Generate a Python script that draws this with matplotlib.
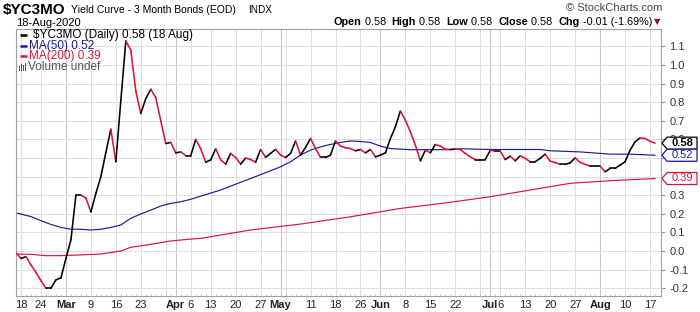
import numpy as np
import pandas as pd
import matplotlib
matplotlib.use('Agg')
import matplotlib.pyplot as plt
from matplotlib.collections import LineCollection
from matplotlib.patches import Polygon
from matplotlib.transforms import IdentityTransform

plt.rcParams['font.family'] = ['Liberation Sans', 'DejaVu Sans']

# ---------------- data ----------------
holidays = ['2020-02-17', '2020-04-10', '2020-05-25', '2020-07-03']
start_date = '2020-02-14'
end_date = '2020-08-18'

price = [
    -0.01, -0.04, -0.03, -0.075, -0.115, -0.16, -0.20, -0.20, -0.155, -0.145,   # Feb14..Feb28
    -0.04, 0.06, 0.30, 0.30, 0.285,                                              # Mar2..Mar6
    0.21, 0.31, 0.40, 0.53, 0.655,                                               # Mar9..13
    0.48, 0.81, 1.13, 1.08, 0.86,                                                # Mar16..20
    0.74, 0.82, 0.87, 0.825, 0.70,                                               # Mar23..27
    0.578, 0.584, 0.528, 0.533, 0.513,                                           # Mar30..Apr3
    0.513, 0.60, 0.55, 0.478,                                                    # Apr6..9
    0.49, 0.55, 0.49, 0.467, 0.525,                                              # Apr13..17
    0.503, 0.467, 0.50, 0.492, 0.478,                                            # Apr20..24
    0.546, 0.504, 0.525, 0.547, 0.516,                                           # Apr27..May1
    0.503, 0.525, 0.592, 0.516, 0.557,                                           # May4..8
    0.605, 0.551, 0.503, 0.503, 0.516,                                           # May11..15
    0.592, 0.564, 0.555, 0.551, 0.539,                                           # May18..22
    0.546, 0.528, 0.546, 0.506,                                                  # May26..29
    0.516, 0.528, 0.605, 0.668, 0.753,                                           # Jun1..5
    0.703, 0.641, 0.569, 0.485, 0.542,                                           # Jun8..12
    0.528, 0.573, 0.564, 0.548, 0.546,                                           # Jun15..19
    0.548, 0.546, 0.525, 0.506, 0.492,                                           # Jun22..26
    0.492, 0.492, 0.542, 0.537,                                                  # Jun29..Jul2
    0.537, 0.492, 0.51, 0.485, 0.512,                                            # Jul6..10
    0.498, 0.48, 0.48, 0.498, 0.521,                                             # Jul13..17
    0.483, 0.476, 0.466, 0.466, 0.474,                                           # Jul20..24
    0.501, 0.476, 0.466, 0.457, 0.457,                                           # Jul27..31
    0.457, 0.426, 0.444, 0.444, 0.462,                                           # Aug3..7
    0.48, 0.542, 0.587, 0.608, 0.605,                                            # Aug10..14
    0.59, 0.58,                                                                  # Aug17..18
]

ma50_dates = ['2020-02-14', '2020-02-20', '2020-02-24', '2020-02-26', '2020-02-28', '2020-03-03',
              '2020-03-05', '2020-03-09', '2020-03-11', '2020-03-13', '2020-03-17', '2020-03-19',
              '2020-03-23', '2020-03-25', '2020-03-27', '2020-03-31', '2020-04-02', '2020-04-06',
              '2020-04-08', '2020-04-15', '2020-04-17', '2020-04-23', '2020-05-01', '2020-05-05',
              '2020-05-07', '2020-05-11', '2020-05-13', '2020-05-15', '2020-05-19', '2020-05-21',
              '2020-05-26', '2020-05-28', '2020-06-01', '2020-06-03', '2020-06-05', '2020-06-09',
              '2020-06-15', '2020-06-19', '2020-06-23', '2020-07-01', '2020-07-16', '2020-07-20',
              '2020-07-28', '2020-08-03', '2020-08-05', '2020-08-11', '2020-08-18']
ma50_vals = [0.205, 0.185, 0.163, 0.143, 0.127, 0.117,
             0.117, 0.113, 0.117, 0.127, 0.14, 0.176,
             0.199, 0.22, 0.242, 0.256, 0.265, 0.278,
             0.295, 0.328, 0.349, 0.39, 0.453, 0.48,
             0.516, 0.543, 0.56, 0.573, 0.584, 0.592,
             0.589, 0.584, 0.564, 0.551, 0.548, 0.545,
             0.545, 0.545, 0.55, 0.546, 0.546, 0.539,
             0.533, 0.525, 0.521, 0.521, 0.515]

ma200_dates = ['2020-02-14', '2020-02-20', '2020-02-25', '2020-02-28', '2020-03-05', '2020-03-11',
               '2020-03-17', '2020-03-19', '2020-03-25', '2020-03-31', '2020-04-06', '2020-04-08',
               '2020-04-23', '2020-05-07', '2020-05-21', '2020-06-05', '2020-06-19', '2020-07-01',
               '2020-07-14', '2020-07-24', '2020-08-05', '2020-08-18']
ma200_vals = [-0.016, -0.018, -0.025, -0.025, -0.021, -0.016,
              0.0, 0.02, 0.036, 0.054, 0.064, 0.068,
              0.113, 0.145, 0.184, 0.229, 0.262, 0.292,
              0.328, 0.364, 0.378, 0.39]

tick_dates = ['2020-02-18', '2020-02-24', '2020-03-02', '2020-03-09', '2020-03-16', '2020-03-23',
              '2020-04-01', '2020-04-06', '2020-04-13', '2020-04-20', '2020-04-27', '2020-05-01',
              '2020-05-11', '2020-05-18', '2020-05-26', '2020-06-01', '2020-06-08', '2020-06-15',
              '2020-06-22', '2020-07-01', '2020-07-06', '2020-07-13', '2020-07-20', '2020-07-27',
              '2020-08-03', '2020-08-10', '2020-08-17']
tick_labels = ['18', '24', 'Mar', '9', '16', '23', 'Apr', '6', '13', '20', '27', 'May',
               '11', '18', '26', 'Jun', '8', '15', '22', 'Jul', '6', '13', '20', '27',
               'Aug', '10', '17']
month_labels = ['Mar', 'Apr', 'May', 'Jun', 'Jul', 'Aug']

y_ticks = [-0.2, -0.1, 0.0, 0.1, 0.2, 0.3, 0.4, 0.5, 0.6, 0.7, 0.8, 0.9, 1.0, 1.1]

# ---------------- positions ----------------
dates = [d for d in pd.bdate_range(start_date, end_date) if d.strftime('%Y-%m-%d') not in holidays]
date_str = [d.strftime('%Y-%m-%d') for d in dates]
pos_of = {s: i - 1 for i, s in enumerate(date_str)}   # Feb 18 -> 0
pos = np.array([pos_of[s] for s in date_str], dtype=float)
price = np.array(price[:len(pos)])

W, H = 700, 312
fig = plt.figure(figsize=(W / 100, H / 100), dpi=100)
L, R, T, B = 16, 661, 29, 296
ax = fig.add_axes([L / W, 1 - B / H, (R - L) / W, (B - T) / H])
ax.set_xlim(-0.8, 128.2)
ax.set_ylim(-0.242, 1.194)

RED = '#dc143c'
NAVY = '#1c1c96'
GRID = '#dedede'
GRID_M = '#c4c4c4'

# grid: weekly + monthly lines
week_first = []
month_first = []
prev = None
for i, d in enumerate(dates):
    if i == 0:
        prev = d
        continue
    if d.isocalendar()[1] != prev.isocalendar()[1]:
        week_first.append(pos[i])
    if d.month != prev.month:
        month_first.append(pos[i])
    prev = d
week_first = [0.0] + week_first
for x in week_first:
    if x not in month_first:
        ax.axvline(x, color=GRID, lw=0.75, zorder=0)
for x in month_first:
    ax.axvline(x, color=GRID_M, lw=0.75, zorder=0)
for y in y_ticks:
    ax.axhline(y, color=GRID, lw=0.75, zorder=0)

# moving averages
ax.plot([pos_of[s] for s in ma200_dates], ma200_vals, color=RED, lw=0.85, zorder=2)
ax.plot([pos_of[s] for s in ma50_dates], ma50_vals, color=NAVY, lw=0.85, zorder=2)

# price line coloured by direction
pts = np.column_stack([pos, price])
segs = np.stack([pts[:-1], pts[1:]], axis=1)
cols = [RED if price[i + 1] < price[i] else 'black' for i in range(len(price) - 1)]
lc = LineCollection(segs, colors=cols, linewidths=1.15, zorder=3, capstyle='round', joinstyle='round')
ax.add_collection(lc)

# axes styling
for s in ax.spines.values():
    s.set_color('#a0a0a0')
    s.set_linewidth(0.8)
ax.yaxis.tick_right()
ax.set_yticks(y_ticks)
ax.set_yticklabels(['%.1f' % v for v in y_ticks])
ax.tick_params(axis='y', which='major', length=3, width=0.6, color='#808080', labelsize=8,
               labelcolor='#333333', pad=3)
ax.set_xticks([pos_of[s] for s in tick_dates])
ax.set_xticklabels(tick_labels)
ax.tick_params(axis='x', which='major', length=0, labelsize=8, labelcolor='#222222', pad=3)
for lab in ax.get_xticklabels():
    if lab.get_text() in month_labels:
        lab.set_fontweight('bold')
ax.set_xticks(pos, minor=True)
ax.tick_params(axis='x', which='minor', length=1.5, width=0.5, color='#b0b0b0', direction='in')

# legend inside plot
def fx(x):
    return (x - L) / (R - L)

def fy(y):
    return (B - y) / (B - T)

leg = [
    ('$YC3MO (Daily) %.2f (18 Aug)' % price[-1], 'black', 35, 33),
    ('MA(50) %.2f' % ma50_vals[-1], NAVY, 45.5, 29),
    ('MA(200) %.2f' % ma200_vals[-1], RED, 56, 29),
]
for txt, c, yy, xt in leg:
    ax.plot([fx(20), fx(27)], [fy(yy), fy(yy)], color=c, lw=1.8, transform=ax.transAxes,
            clip_on=False, zorder=5, solid_capstyle='butt')
    ax.text(fx(xt), fy(yy), txt, color=c, fontsize=8.5, va='center', ha='left',
            transform=ax.transAxes, zorder=5)
# volume icon
for k, hgt in enumerate([5, 7, 6, 8]):
    ax.add_patch(plt.Rectangle((fx(19 + k * 2.0), fy(71.5)), 1.4 / (R - L), hgt / (B - T),
                               transform=ax.transAxes, facecolor='#555555', edgecolor='none',
                               clip_on=False, zorder=5))
ax.text(fx(28.5), fy(67), 'Volume undef', color='#555555', fontsize=8.5, va='center', ha='left',
        transform=ax.transAxes, zorder=5)

# header
fig.text(3 / W, 1 - 10 / H, '$YC3MO', fontsize=11, fontweight='bold', va='center', ha='left')
fig.text(71 / W, 1 - 10 / H, 'Yield Curve - 3 Month Bonds (EOD)', fontsize=7.5, va='center', ha='left')
fig.text(248 / W, 1 - 10 / H, 'INDX', fontsize=7.2, va='center', ha='left')
fig.text(16 / W, 1 - 23 / H, '18-Aug-2020', fontsize=8, va='center', ha='left')
fig.text(662 / W, 1 - 8 / H, '\u00a9 StockCharts.com', fontsize=8, va='center', ha='right', color='#444444')

fig.canvas.draw()
renderer = fig.canvas.get_renderer()
pieces = [('Open', 'bold'), (' 0.58  ', 'normal'), ('High', 'bold'), (' 0.58  ', 'normal'),
          ('Low', 'bold'), (' 0.58  ', 'normal'), ('Close', 'bold'), (' 0.58  ', 'normal'),
          ('Chg', 'bold'), (' -0.01 (-1.69%)', 'normal')]
objs = []
for t, wgt in pieces:
    o = fig.text(0, 1 - 22 / H, t, fontsize=7.8, fontweight=wgt, va='center', ha='left')
    objs.append(o)
fig.canvas.draw()
widths = [o.get_window_extent(renderer).width for o in objs]
xcur = 652 - sum(widths)
for o, wdt in zip(objs, widths):
    o.set_x(xcur / W)
    xcur += wdt
fig.text(657 / W, 1 - 22 / H, '\u25bc', fontsize=6, color='#8b0a2a', va='center', ha='center',
         family=['DejaVu Sans'])

# right-side value boxes
fig.canvas.draw()
boxes = [(price[-1], 'black', 'bold'), (ma50_vals[-1], NAVY, 'normal'), (ma200_vals[-1], RED, 'normal')]
for val, c, wgt in boxes:
    yd = ax.transData.transform((0, val))[1]
    poly = Polygon([(662, yd), (667, yd + 6), (697, yd + 6), (697, yd - 6), (667, yd - 6)],
                   closed=True, facecolor='white', edgecolor=c, lw=0.9, transform=IdentityTransform(),
                   zorder=10)
    fig.add_artist(poly)
    fig.text(682 / W, yd / H, '%.2f' % val, color=c, fontsize=8, fontweight=wgt, va='center',
             ha='center', zorder=11)

fig.savefig('out.png', dpi=100)
